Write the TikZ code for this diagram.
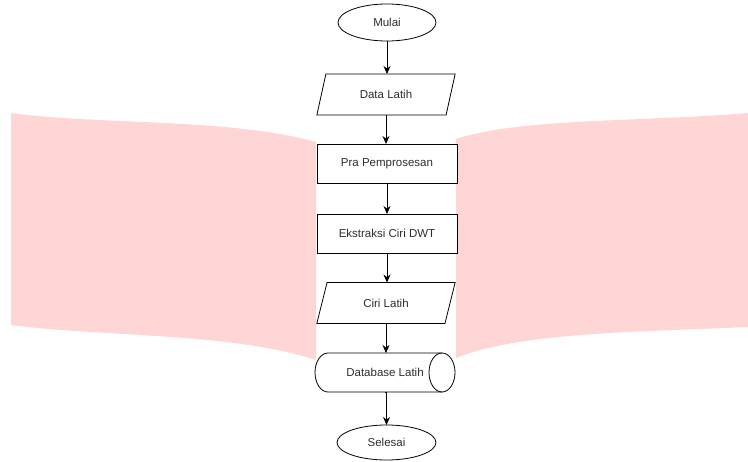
\documentclass[tikz,border=0pt]{standalone}
\usepackage{fontspec}
\setmainfont{Liberation Sans}
\usetikzlibrary{shapes.geometric,arrows.meta}
\definecolor{pinkbg}{RGB}{255,214,214}
\definecolor{txt}{RGB}{45,45,45}
\begin{document}
\begin{tikzpicture}[x=1pt,y=-1pt,
  every node/.style={font=\fontsize{11.5}{13}\selectfont, text=txt, inner sep=0pt, outer sep=0pt},
  lbl/.style={line width=0.8pt, draw=black},
  term/.style={lbl, ellipse, fill=white, minimum width=98pt, minimum height=37pt},
  proc/.style={lbl, rectangle, fill=white, minimum width=140pt, minimum height=39pt},
  io/.style={lbl, trapezium, trapezium left angle=65, trapezium right angle=115, trapezium stretches=true, fill=white, minimum width=139pt, minimum height=41pt},
  store/.style={rectangle, minimum width=140pt, minimum height=39pt},
  conn/.style={line width=0.8pt, -{Stealth[length=8pt,width=7pt]}}]
\useasboundingbox (0,0) rectangle (748,462);
% pink background shapes
\fill[pinkbg] (11,113) .. controls (100,125) and (230,118) .. (316,142)
  -- (316,360) .. controls (230,332) and (100,337) .. (11,325) -- cycle;
\fill[pinkbg] (456,139) .. controls (520,118) and (640,122) .. (748,113)
  -- (748,327) .. controls (640,332) and (520,332) .. (456,358) -- cycle;
% nodes
\node[term] (mulai) at (387,22.5) {Mulai};
\node[io] (data) at (386,94.5) {Data Latih};
\node[proc] (pra) at (387,163.5) {Pra Pemprosesan};
\node[proc] (eks) at (387,233.5) {Ekstraksi Ciri DWT};
\node[io] (ciri) at (386,303) {Ciri Latih};
\node[store] (db) at (385,372.5) {Database Latih};
\draw[lbl] (328,353) -- (442,353) (442,392) -- (328,392) arc[start angle=90, end angle=270, x radius=13, y radius=19.5];
\draw[lbl] (442,372.5) ellipse [x radius=13, y radius=19.5];
\node[term, minimum height=35pt, minimum width=99pt] (selesai) at (386.5,442.5) {Selesai};
% connectors
\draw[conn] (mulai.south) -- (mulai.south |- data.north);
\draw[conn] (data.south) -- (data.south |- pra.north);
\draw[conn] (pra.south) -- (eks.north);
\draw[conn] (eks.south) -- (eks.south |- ciri.north);
\draw[conn] (ciri.south) -- (ciri.south |- db.north);
\draw[conn] (db.south) -- (db.south -| selesai.north) -- (selesai.north);
\end{tikzpicture}
\end{document}
